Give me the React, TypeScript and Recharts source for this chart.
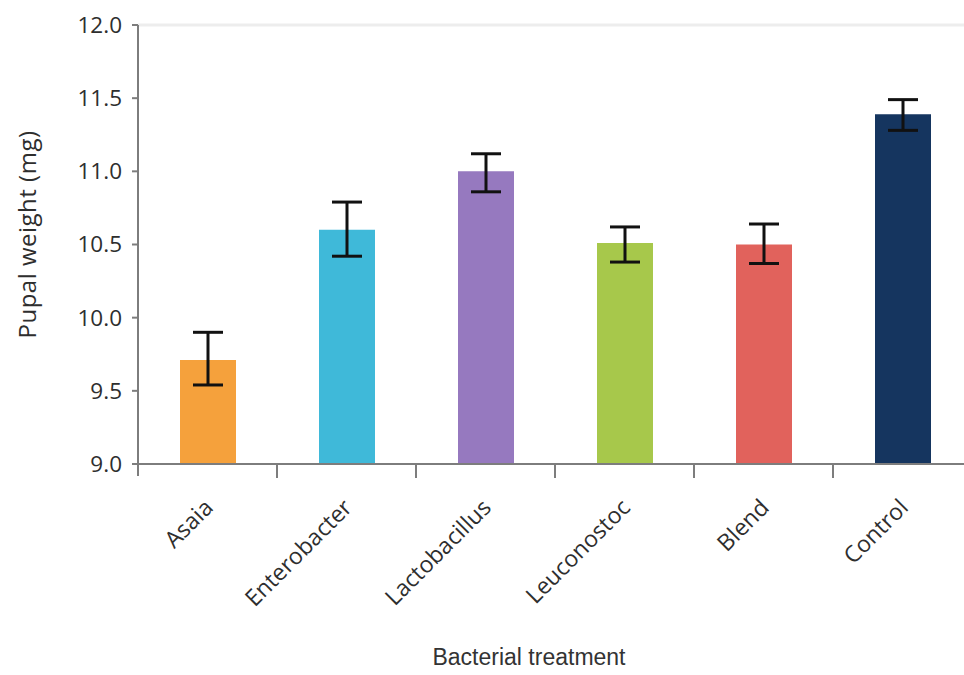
import { BarChart, Bar, Cell, XAxis, YAxis, ErrorBar, ReferenceLine } from "recharts";

const treatments = ["Asaia", "Enterobacter", "Lactobacillus", "Leuconostoc", "Blend", "Control"];
const meanWeight = [9.71, 10.6, 11.0, 10.51, 10.5, 11.39];
const lowerBound = [9.54, 10.42, 10.86, 10.38, 10.37, 11.28];
const upperBound = [9.9, 10.79, 11.12, 10.62, 10.64, 11.49];
const barColors = ["#f5a13c", "#3fb9d9", "#9679bf", "#a7c84b", "#e1625c", "#15355f"];
const yTicks = [9.0, 9.5, 10.0, 10.5, 11.0, 11.5, 12.0];

const chartData = treatments.map((name, i) => ({
    name,
    weight: meanWeight[i],
    err: [meanWeight[i] - lowerBound[i], upperBound[i] - meanWeight[i]],
}));

const FONT = "'Open Sans', sans-serif";
const AXIS = "#7d7d7d";

const CategoryTick = (props: any) => {
    const { x, y, payload, index } = props;
    const half = payload.offset ?? 69.5;
    return (
        <g>
            {index === 0 && (
                <line x1={x - half} x2={x - half} y1={y} y2={y + 12} stroke={AXIS} strokeWidth={2} />
            )}
            <line x1={x + half} x2={x + half} y1={y} y2={y + 14} stroke={AXIS} strokeWidth={2} />
            <text
                transform={`translate(${x + 7},${y + 45}) rotate(-45)`}
                textAnchor="end"
                fontFamily={FONT}
                fontSize={23}
                fill="#2e2e2e"
            >
                {payload.value}
            </text>
        </g>
    );
};

export default function App() {
    return (
        <div style={{ position: "fixed", left: 0, top: 0, width: 964, height: 675, overflow: "hidden", background: "#fff" }}>
            <BarChart
                width={980}
                height={675}
                data={chartData}
                margin={{ top: 25, right: 8, bottom: 0, left: 0 }}
            >
                <ReferenceLine y={12} stroke="#ededed" strokeWidth={3} />
                <XAxis
                    dataKey="name"
                    height={211}
                    tickLine={false}
                    tickSize={0}
                    tickMargin={0}
                    interval={0}
                    axisLine={{ stroke: AXIS, strokeWidth: 2 }}
                    tick={<CategoryTick />}
                    label={{
                        content: ({ viewBox }: any) => (
                            <text
                                x={viewBox.x + viewBox.width / 2 - 26}
                                y={665}
                                textAnchor="middle"
                                fontFamily="'Liberation Sans', Arial, sans-serif"
                                fontSize={23}
                                fill="#333"
                            >
                                Bacterial treatment
                            </text>
                        ),
                    }}
                />
                <YAxis
                    width={138}
                    domain={[9, 12]}
                    ticks={yTicks}
                    interval={0}
                    tickSize={6}
                    tickMargin={10}
                    tickFormatter={(v: number) => v.toFixed(1)}
                    axisLine={{ stroke: AXIS, strokeWidth: 2 }}
                    tickLine={{ stroke: AXIS, strokeWidth: 2 }}
                    tick={{ fontFamily: FONT, fontSize: 22.5, fill: "#2e2e2e" }}
                    label={{
                        content: ({ viewBox }: any) => (
                            <text
                                transform={`translate(26,${viewBox.y + viewBox.height / 2 - 10}) rotate(-90)`}
                                textAnchor="middle"
                                dominantBaseline="central"
                                fontFamily={FONT}
                                fontSize={24}
                                letterSpacing={0.5}
                                fill="#2e2e2e"
                            >
                                Pupal weight (mg)
                            </text>
                        ),
                    }}
                />
                <Bar dataKey="weight" barSize={56} isAnimationActive={false}>
                    {chartData.map((d, i) => (
                        <Cell key={d.name} fill={barColors[i]} />
                    ))}
                    <ErrorBar dataKey="err" width={15} strokeWidth={3} stroke="#111" isAnimationActive={false} />
                </Bar>
            </BarChart>
        </div>
    );
}
